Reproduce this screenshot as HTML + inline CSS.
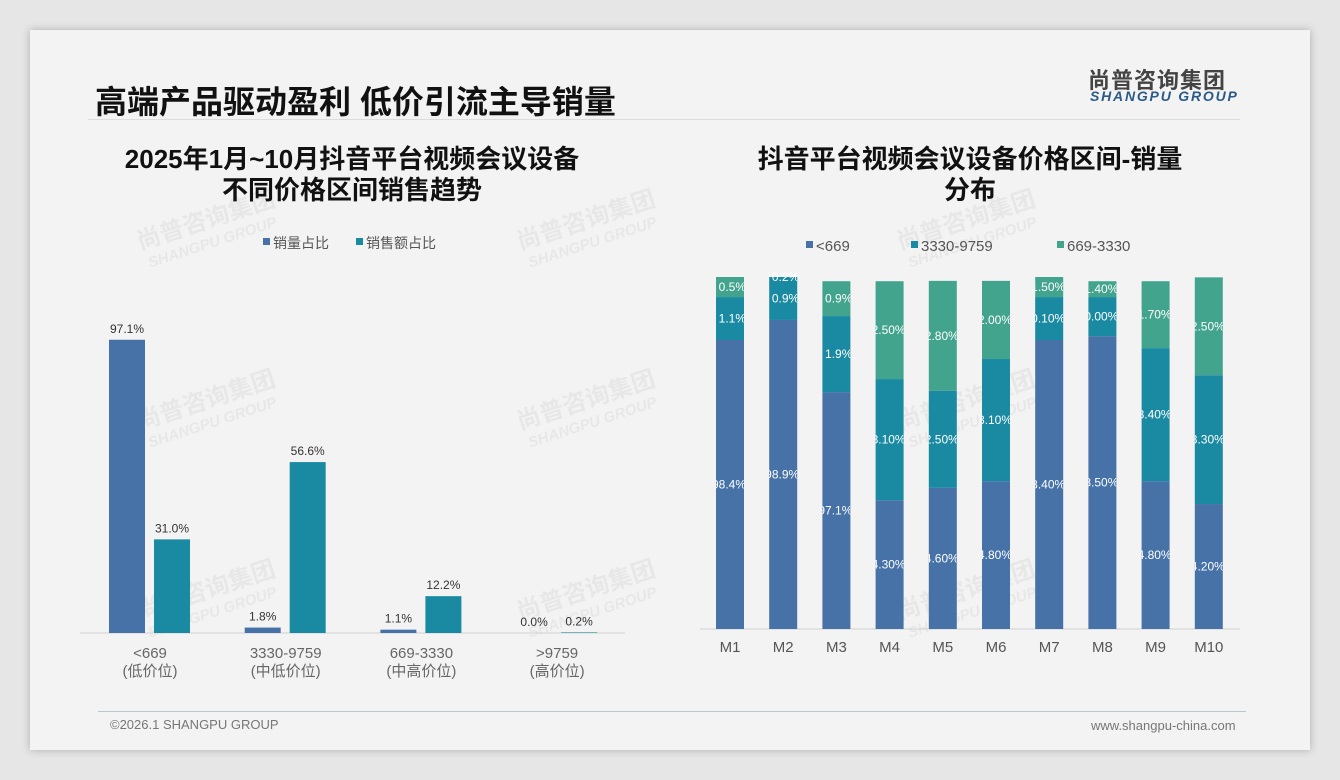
<!DOCTYPE html>
<html><head><meta charset="utf-8">
<style>
body{margin:0;width:1340px;height:780px;background:#e6e6e6;font-family:"Liberation Sans","Noto Sans CJK SC",sans-serif;overflow:hidden;position:relative}
#panel{position:absolute;left:30px;top:30px;width:1280px;height:720px;background:#f3f3f3;box-shadow:0 0 8px rgba(0,0,0,.25)}
.t{position:absolute;white-space:nowrap}
</style></head><body>
<div id="panel"></div>
<div class="t" style="left:95px;top:77px;font-size:32px;font-weight:bold;color:#111">高端产品驱动盈利 低价引流主导销量</div>
<div style="position:absolute;left:88px;top:119px;width:1152px;height:1px;background:#dcdcdc"></div>
<div class="t" style="left:1088px;top:63px;font-size:22px;font-weight:bold;color:#444;letter-spacing:1px">尚普咨询集团</div>
<div class="t" style="left:1090px;top:88px;font-size:14px;font-weight:bold;font-style:italic;color:#2b5a86;letter-spacing:1.8px">SHANGPU GROUP</div>
<div class="t" style="left:72px;width:560px;top:144px;text-align:center;font-size:26px;font-weight:bold;line-height:31px;color:#111">2025年1月~10月抖音平台视频会议设备<br>不同价格区间销售趋势</div>
<div class="t" style="left:690px;width:560px;top:144px;text-align:center;font-size:26px;font-weight:bold;line-height:31px;color:#111">抖音平台视频会议设备价格区间-销量<br>分布</div>
<div style="position:absolute;left:98px;top:711px;width:1148px;height:1px;background:#b8c6d6"></div>
<div class="t" style="left:110px;top:717px;font-size:13px;color:#777">©2026.1 SHANGPU GROUP</div>
<div class="t" style="left:1091px;top:718px;font-size:13px;color:#777">www.shangpu-china.com</div>
<svg id="c" width="1340" height="780" style="position:absolute;left:0;top:0" font-family="Liberation Sans, Noto Sans CJK SC, sans-serif"></svg>
<script>
const cats=["<669","3330-9759","669-3330",">9759"];
const catSub=["(低价位)","(中低价位)","(中高价位)","(高价位)"];
const volShare=[97.1,1.8,1.1,0.0];
const revShare=[31.0,56.6,12.2,0.2];
const months=["M1","M2","M3","M4","M5","M6","M7","M8","M9","M10"];
const segLow=[82.1,87.8,67.3,36.6,40.1,42.0,82.1,83.2,42.0,35.5];
const segMid=[12.2,12.2,21.6,34.4,27.6,34.7,12.2,11.1,37.8,36.6];
const segHigh=[5.7,0,9.9,27.8,31.2,22.2,5.7,4.5,19.0,27.8];
const lblLow=["98.4%","98.9%","97.1%","64.30%","64.60%","64.80%","88.40%","88.50%","64.80%","64.20%"];
const lblMid=["1.1%","0.9%","1.9%","23.10%","22.50%","23.10%","10.10%","10.00%","23.40%","23.30%"];
const lblHigh=["0.5%","0.2%","0.9%","12.50%","12.80%","12.00%","1.50%","1.40%","11.70%","12.50%"];
const C1="#4672a8",C2="#1a8aa2",C3="#43a48e";
const svg=document.getElementById('c');
const NS="http://www.w3.org/2000/svg";
function mk(tag,a,p){const e=document.createElementNS(NS,tag);for(const k in a)e.setAttribute(k,a[k]);(p||svg).appendChild(e);return e;}
function tx(x,y,s,a,p){const e=mk('text',Object.assign({x:x,y:y},a),p);e.textContent=s;return e;}
[[140,250],[520,250],[140,430],[520,430],[140,620],[520,620],[900,250],[900,430],[900,620]].forEach(([x,y])=>{
 const g=mk('g',{transform:`translate(${x},${y}) rotate(-18)`,opacity:0.045});
 
 tx(0,0,"尚普咨询集团",{'font-size':24,'font-weight':'bold',fill:'#000'},g);
 tx(4,20,"SHANGPU GROUP",{'font-size':15,'font-weight':'bold','font-style':'italic',fill:'#000'},g);
});
const L={x0:80,x1:625,base:633,k:3.02};
function lx(i){return 150+i*135.7;}
function ly(v){return L.base-v*L.k;}
const ax=mk('line',{x1:L.x0,x2:L.x1,y1:L.base,y2:L.base,stroke:'#d0d0d0'});

[[263,"销量占比",C1],[356,"销售额占比",C2]].forEach(([x,s,c])=>{
 const r=mk('rect',{x:x,y:238,width:7,height:7,fill:c});
 const t=tx(x+10,248,s,{'font-size':14,fill:'#555'});
});
cats.forEach((c,i)=>{
 const cx=lx(i);
 [[volShare[i],cx-41,C1,'bar-volume'],[revShare[i],cx+4,C2,'bar-revenue']].forEach(([v,x,col,n])=>{
  const y=ly(v);
  const r=mk('rect',{x:x,y:y,width:36,height:L.base-y,fill:col});
  
  const t=tx(x+18,y-7,v.toFixed(1)+"%",{'font-size':12,fill:'#333','text-anchor':'middle'});
  
 });
 const a=tx(cx,658,c,{'font-size':15,fill:'#666','text-anchor':'middle'});
 const b=tx(cx,676,catSub[i],{'font-size':15,fill:'#666','text-anchor':'middle'});
});
const R={x0:700,x1:1240,base:629,k:3.52};
function rx(i){return 730+i*53.2;}
function ry(v){return R.base-v*R.k;}
const ax2=mk('line',{x1:R.x0,x2:R.x1,y1:R.base,y2:R.base,stroke:'#d0d0d0'});

[[806,"<669",C1],[911,"3330-9759",C2],[1057,"669-3330",C3]].forEach(([x,s,c])=>{
 const r=mk('rect',{x:x,y:241,width:7,height:7,fill:c});
 const t=tx(x+10,251,s,{'font-size':15,fill:'#555'});
});
const defs=mk('defs',{});
months.forEach((m,i)=>{
 const cx=rx(i),w=28,x=cx-14;
 const cp=mk('clipPath',{id:'cp'+i},defs);mk('rect',{x:x,y:200,width:w,height:440},cp);
 let acc=0;
 [[segLow,lblLow,C1,'stack-low'],[segMid,lblMid,C2,'stack-mid'],[segHigh,lblHigh,C3,'stack-high']].forEach(([arr,lb,col,n])=>{
  const v=arr[i];const y0=ry(acc),y1=ry(acc+v);acc+=v;
  const r=mk('rect',{x:x,y:y1,width:w,height:y0-y1,fill:col});
  
  let ly2=(y0+y1)/2+4; if(v<3) ly2=y1+4;
  const t=tx(x+w+2,ly2,lb[i],{'font-size':12,fill:'#fff','text-anchor':'end','clip-path':`url(#cp${i})`});
  
 });
 const t=tx(cx,652,m,{'font-size':15,fill:'#555','text-anchor':'middle'});
 
});
</script>
</body></html>
